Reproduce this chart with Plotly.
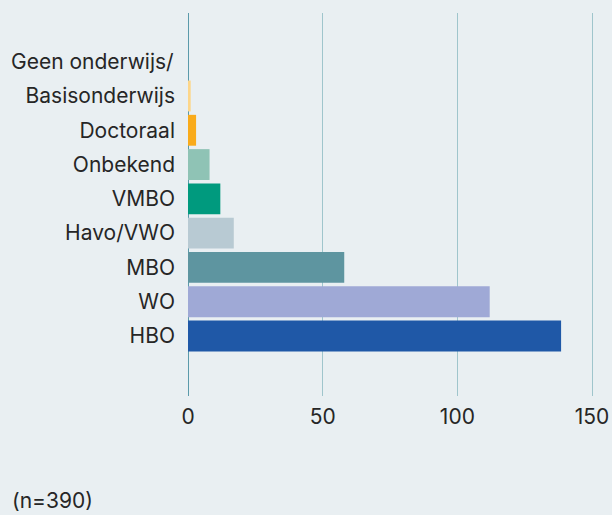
import plotly.graph_objects as go

categories = ["HBO", "WO", "MBO", "Havo/VWO", "VMBO", "Onbekend", "Doctoraal", "Geen onderwijs/Basisonderwijs"]
tick_labels = ["HBO", "WO", "MBO", "Havo/VWO", "VMBO", "Onbekend", "Doctoraal", "Basisonderwijs"]
values = [138.5, 112, 58, 17, 12, 8, 3, 1]
colors = ["#1f58a7", "#9fa9d6", "#5e95a0", "#b8cad3", "#009a7e", "#8fc3b5", "#f9ab1b", "#fdd68a"]
x_ticks = [0, 50, 100, 150]
note = "(n=390)"

FONT = "Inter"
FS = 21
BG = "#e9eff2"
TXT = "#262626"

fig = go.Figure(go.Bar(
    x=values, y=categories, orientation="h",
    marker=dict(color=colors, line=dict(width=0)),
    hoverinfo="x+y",
))

fig.update_layout(
    width=612, height=515,
    paper_bgcolor=BG, plot_bgcolor=BG,
    margin=dict(l=188, r=0, t=13, b=119),
    bargap=0.1,
    showlegend=False,
    font=dict(family=FONT, size=FS, color=TXT),
    xaxis=dict(
        range=[0, 157.4],
        tickvals=x_ticks,
        showgrid=True, gridcolor="#9fc5cc", gridwidth=1,
        zeroline=True, zerolinecolor="#5b9aaa", zerolinewidth=1,
        showline=False,
        ticklabelstandoff=6,
        tickfont=dict(size=FS, color=TXT),
    ),
    yaxis=dict(
        type="category",
        categoryorder="array", categoryarray=categories,
        tickvals=categories, ticktext=tick_labels,
        range=[-1.75, 9.42],
        showgrid=False, zeroline=False, showline=False,
        ticklabelstandoff=12,
        tickfont=dict(size=FS, color=TXT),
    ),
    annotations=[
        dict(text="Geen onderwijs/", xref="paper", yref="y", x=0, y=8,
             xanchor="right", yanchor="middle", xshift=-12, showarrow=False,
             font=dict(family=FONT, size=FS, color=TXT)),
        dict(text=note, xref="paper", yref="paper", x=-178/424, y=-0.272,
             xanchor="left", yanchor="middle", showarrow=False,
             font=dict(family=FONT, size=FS, color=TXT)),
    ],
)

fig.write_html("out.html", config={"displayModeBar": False},
               post_script="document.body.style.margin='0';document.body.style.padding='0';")
